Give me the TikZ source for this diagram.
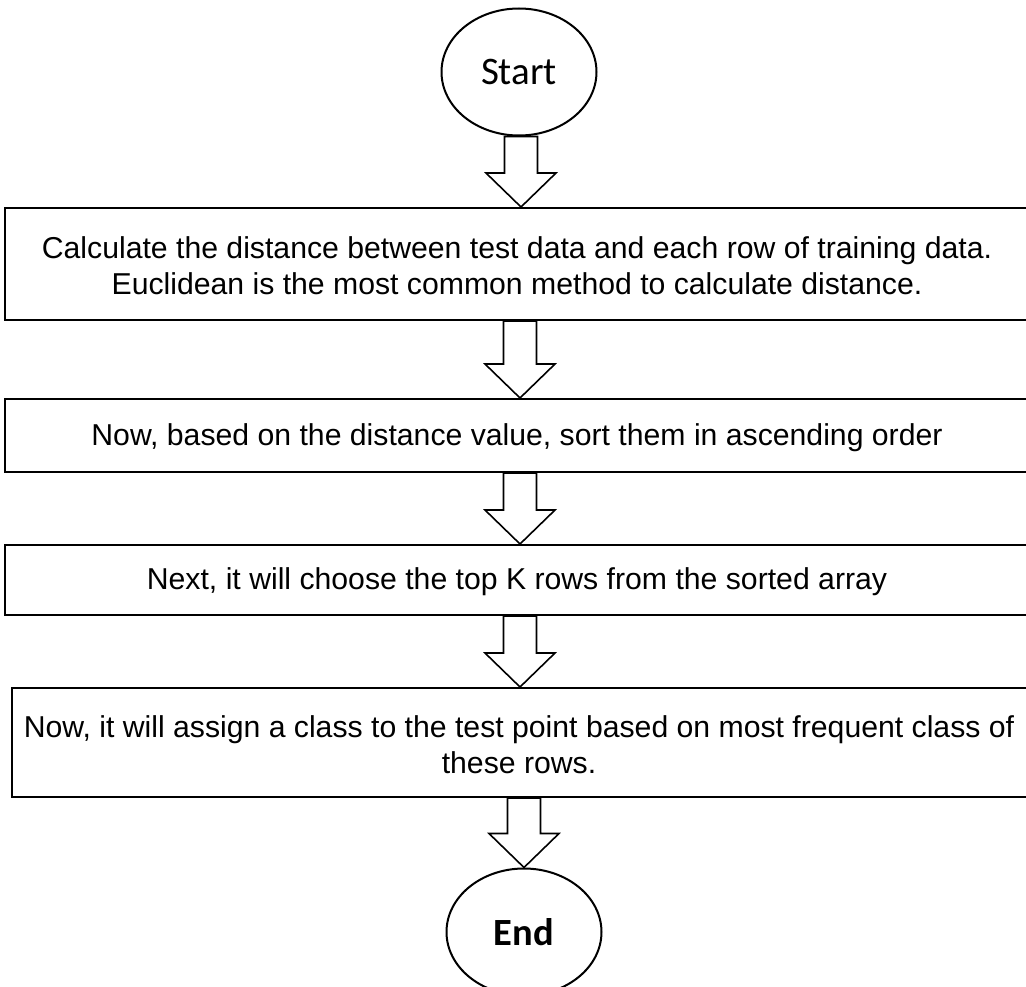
\documentclass[tikz,border=0pt]{standalone}
\usepackage{fontspec}
\setmainfont{Liberation Sans}
\newfontfamily\termfont{Carlito}
\usetikzlibrary{calc,shapes.geometric}

% hollow block arrow: #1 = x of the arrow axis (pt), #2 = start node anchor, #3 = tip node anchor
\newcommand\blockarrow[3]{%
  \draw[flowarrow] let \p1=(#2), \p2=(#3) in
    (#1pt-16.5pt,\y1) -- (#1pt+16.5pt,\y1) -- (#1pt+16.5pt,\y2+34pt)
    -- (#1pt+35pt,\y2+34pt) -- (#1pt,\y2) -- (#1pt-35pt,\y2+34pt)
    -- (#1pt-16.5pt,\y2+34pt) -- cycle;}

\begin{document}
\begin{tikzpicture}[x=1pt,y=-1pt,
  stepbox/.style={draw, line width=2pt, rectangle, inner sep=0pt},
  steptext/.style={font=\fontsize{30.2}{36}\selectfont, align=center, inner sep=0pt},
  terminal/.style={draw, line width=2pt, ellipse, inner sep=0pt,
    minimum width=155pt, minimum height=127pt},
  flowarrow/.style={draw, line width=1.6pt, line join=miter}
]
\useasboundingbox (0,0) rectangle (1026,987);
\clip (0,0) rectangle (1026,987);

% terminals
\node[terminal, font=\termfont\fontsize{39}{42}\selectfont] (start) at (519,72) {\raisebox{-2pt}{Start}};
\node[terminal, font=\termfont\bfseries\fontsize{38.5}{42}\selectfont] (end) at (524,932) {End};

% process boxes
\node[stepbox, minimum width=1024pt, minimum height=112pt] (b1) at (517,264) {};
\node[steptext] (t1) at (517,266)
  {Calculate the distance between test data and each row of training data.\\
   Euclidean is the most common method to calculate distance.};

\node[stepbox, minimum width=1024pt, minimum height=73pt] (b2) at (517,435.5) {};
\node[steptext] (t2) at (517,438)
  {Now, based on the distance value, sort them in ascending order};

\node[stepbox, minimum width=1024pt, minimum height=70pt] (b3) at (517,580) {};
\node[steptext] (t3) at (517,582)
  {Next, it will choose the top K rows from the sorted array};

\node[stepbox, minimum width=1040pt, minimum height=109pt] (b4) at (532,742.5) {};
\node[steptext] (t4) at (519,745)
  {Now, it will assign a class to the test point based on most frequent class of\\
   these rows.};

% block arrows between the steps
\blockarrow{521}{start.south}{b1.north}
\blockarrow{520}{b1.south}{b2.north}
\blockarrow{520}{b2.south}{b3.north}
\blockarrow{520}{b3.south}{b4.north}
\blockarrow{524}{b4.south}{end.north}
\end{tikzpicture}
\end{document}
